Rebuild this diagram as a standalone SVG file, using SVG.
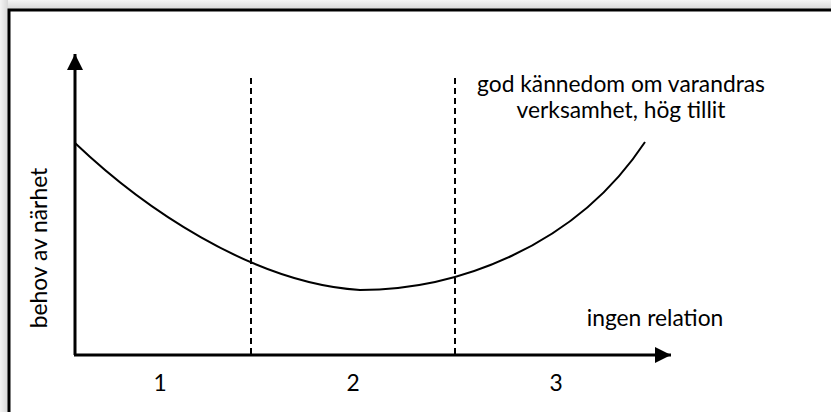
<svg xmlns="http://www.w3.org/2000/svg" width="831" height="412" viewBox="0 0 831 412">
<defs>
<linearGradient id="shT" x1="0" y1="0" x2="0" y2="1"><stop offset="0" stop-color="#f4f4f4"/><stop offset="1" stop-color="#d8d8d8"/></linearGradient>
<linearGradient id="shL" x1="0" y1="0" x2="1" y2="0"><stop offset="0" stop-color="#f4f4f4"/><stop offset="1" stop-color="#d8d8d8"/></linearGradient>
<marker id="ah" viewBox="0 0 16 16" refX="16" refY="8" markerWidth="16" markerHeight="16" markerUnits="userSpaceOnUse" orient="auto"><path d="M0,0 L16,8 L0,16 Z" fill="#000"/></marker>
<style>
.t{font-family:Lato,"Open Sans","DejaVu Sans",sans-serif;font-size:22.8px;fill:#000}
.ax{stroke:#000;stroke-width:3;fill:none}
.dash{stroke:#000;stroke-width:2;stroke-dasharray:6 4;fill:none}
.cv{stroke:#000;stroke-width:2;fill:none}
</style>
</defs>
<rect width="831" height="412" fill="#fff"/>
<rect x="0" y="0" width="831" height="9" fill="url(#shT)"/>
<rect x="0" y="0" width="8" height="412" fill="url(#shL)"/>
<path d="M9,420 V10 H840" stroke="#000" stroke-width="3" fill="none"/>
<g id="connectors">
<path class="ax" d="M75,355 V54" marker-end="url(#ah)"/>
<path class="ax" d="M74,355 H671" marker-end="url(#ah)"/>
<path class="dash" d="M251,78 V355"/>
<path class="dash" d="M455,78 V355"/>
<path class="cv" d="M75,143 C140,205 250,283 360,290 C455,290 575,248 645,142"/>
</g>
<g id="labels">
<text class="t" x="621" y="92" text-anchor="middle">god kännedom om varandras</text>
<text class="t" x="621" y="118" text-anchor="middle">verksamhet, hög tillit</text>
<text class="t" x="655" y="326" text-anchor="middle">ingen relation</text>
<text class="t" transform="translate(47,248) rotate(-90)" text-anchor="middle">behov av närhet</text>
<text class="t" x="160" y="391" text-anchor="middle">1</text>
<text class="t" x="353" y="391" text-anchor="middle">2</text>
<text class="t" x="556" y="391" text-anchor="middle">3</text>
</g>
</svg>
